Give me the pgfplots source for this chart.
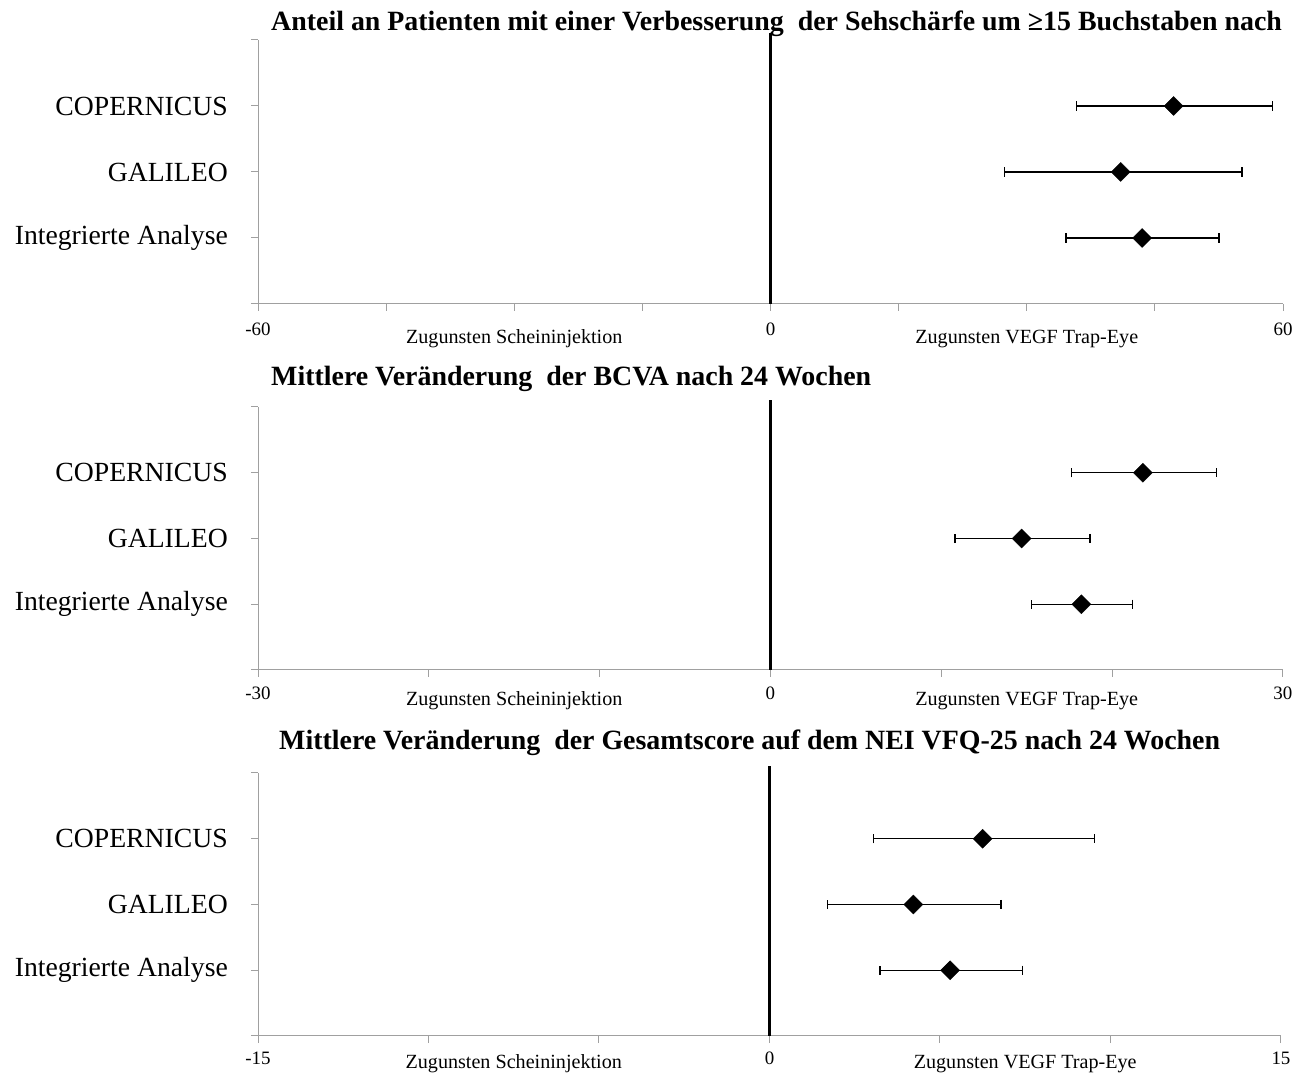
\documentclass[border=0pt]{standalone}
\usepackage{fontspec}
\setmainfont{Liberation Serif}
\usepackage{pgfplots}
\usepackage{pgfplotstable}
\pgfplotsset{compat=1.18}

% Forest-plot data: point estimate (m) with lower/upper confidence limits
\pgfplotstableread{
y m lo hi
3 47.2 35.8 58.8
2 41.0 27.4 55.2
1 43.5 34.6 52.5
}\tabResponder
\pgfplotstableread{
y m lo hi
3 21.8 17.6 26.1
2 14.7 10.8 18.7
1 18.2 15.3 21.2
}\tabBCVA
\pgfplotstableread{
y m lo hi
3 6.25 3.04 9.52
2 4.22 1.70 6.79
1 5.30 3.24 7.41
}\tabVFQ

\definecolor{axisgray}{RGB}{160,160,160}

\newcommand{\titlefont}{\fontsize{28}{31}\selectfont\bfseries}
\newcommand{\catfont}{\fontsize{27.8}{31}\selectfont}
\newcommand{\tickfont}{\fontsize{19}{22}\selectfont}
\newcommand{\sidefont}{\fontsize{20.2}{23}\selectfont}

\pgfplotsset{
  forest/.style={
    scale only axis,
    width=1025bp, height=264bp,
    anchor=south west,
    axis lines=left,
    axis line style={-, draw=axisgray, line width=1bp},
    tick align=outside,
    major tick length=7bp,
    tick style={draw=axisgray, line width=1bp},
    ymin=0, ymax=4,
    ytick={0,1,2,3,4},
    yticklabels={,Integrierte Analyse,GALILEO,COPERNICUS,},
    yticklabel style={font=\catfont, anchor=east, inner sep=0pt, xshift=-23bp},
    clip=false,
  },
  estimate/.style={
    only marks,
    mark=square*,
    mark size=6.7bp,
    mark options={rotate=45, fill=black, draw=black},
    error bars/.cd,
      x dir=both, x explicit,
      error bar style={black, line width=1.4bp},
      error mark options={black, mark size=4.7bp, line width=1.2bp, rotate=90},
  },
}

% #1 = data table, #2 = distance of the side captions below the x axis
\newcommand{\forestplot}[2]{%
  \addplot[black, line width=2.2bp, no marks] coordinates {(0,0) (0,4.1)};
  \addplot[estimate] table[x=m, y=y,
      x error plus expr=\thisrow{hi}-\thisrow{m},
      x error minus expr=\thisrow{m}-\thisrow{lo}] {#1};
  \node[font=\sidefont, inner sep=0pt] at ([yshift=-#2]rel axis cs:0.25,0) {Zugunsten Scheininjektion};
  \node[font=\sidefont, inner sep=0pt] at ([yshift=-#2]rel axis cs:0.75,0) {Zugunsten VEGF Trap-Eye};
}

\begin{document}
\begin{tikzpicture}
\useasboundingbox (0,0) rectangle (1294bp,1075bp);

\begin{axis}[forest, at={(258bp,771bp)},
    xmin=-60, xmax=60, xtick={-60,-45,...,60},
    xticklabels={-60,,,,0,,,,60},
    xticklabel style={font=\tickfont, inner sep=0pt, yshift=-12bp}]
  \forestplot{\tabResponder}{35bp}
\end{axis}
\node[anchor=base west, inner sep=0pt, font=\titlefont] at (271bp,1044bp)
  {Anteil an Patienten mit einer Verbesserung\ \ der Sehschärfe um ≥15 Buchstaben nach};

\begin{axis}[forest, at={(258bp,405bp)}, height=263bp,
    xmin=-30, xmax=30, xtick={-30,-20,...,30},
    xticklabels={-30,,,0,,,30},
    xticklabel style={font=\tickfont, inner sep=0pt, yshift=-10bp}]
  \forestplot{\tabBCVA}{31bp}
\end{axis}
\node[anchor=base west, inner sep=0pt, font=\titlefont] at (271bp,689bp)
  {Mittlere Veränderung\ \ der BCVA nach 24 Wochen};

\begin{axis}[forest, at={(258bp,39bp)}, width=1023bp, height=263bp,
    xmin=-15, xmax=15, xtick={-15,-10,...,15},
    xticklabels={-15,,,0,,,15},
    xticklabel style={font=\tickfont, inner sep=0pt, yshift=-9bp}]
  \forestplot{\tabVFQ}{28bp}
\end{axis}
\node[anchor=base west, inner sep=0pt, font=\titlefont] at (279bp,325bp)
  {Mittlere Veränderung\ \ der Gesamtscore auf dem NEI VFQ-25 nach 24 Wochen};
\end{tikzpicture}
\end{document}
